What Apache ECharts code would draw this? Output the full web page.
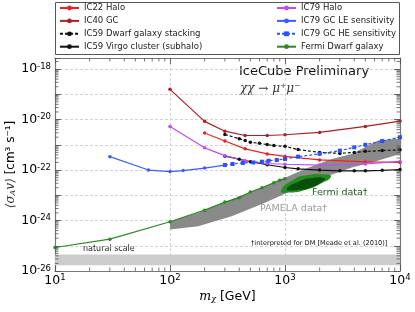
<!DOCTYPE html>
<html><head><meta charset="utf-8">
<script src="https://cdn.jsdelivr.net/npm/echarts@6/dist/echarts.min.js"></script>
<style>html,body{margin:0;padding:0;background:#fff}#c{width:415px;height:312px}</style>
</head><body><div id="c"></div>
<script>
// ---------- data ----------
const ic22Mass  = [200, 300, 450, 700, 1000, 2000, 5000, 10000];
const ic22Sigma = [2.95e-21, 1.41e-21, 6.92e-22, 4.37e-22, 3.47e-22, 2.51e-22, 2.09e-22, 2.0e-22];

const ic40Mass  = [100, 200, 300, 450, 700, 1000, 2000, 5000, 10000];
const ic40Sigma = [1.58e-19, 8.51e-21, 3.47e-21, 2.34e-21, 2.34e-21, 2.51e-21, 3.09e-21, 5.37e-21, 8.71e-21];

const dwarfMass  = [300, 400, 450, 500, 600, 700, 800, 1000, 1300, 2000, 3000, 4000, 5000, 7000, 10000];
const dwarfSigma = [2.57e-21, 1.74e-21, 1.48e-21, 1.26e-21, 1.15e-21, 1.02e-21, 9.33e-22, 8.71e-22, 6.46e-22, 5.01e-22, 4.57e-22, 5.01e-22, 5.5e-22, 5.89e-22, 6.31e-22];

const virgoMass  = [300, 400, 500, 700, 1000, 1300, 2000, 3000, 4000, 5000, 7000, 10000];
const virgoSigma = [3.55e-22, 2.69e-22, 2.14e-22, 1.62e-22, 1.26e-22, 1.12e-22, 1.0e-22, 9.33e-23, 9.33e-23, 9.33e-23, 9.77e-23, 1.05e-22];

const ic79HaloMass  = [100, 200, 300, 450, 700, 1000, 2000, 5000, 10000];
const ic79HaloSigma = [5.37e-21, 7.59e-22, 3.72e-22, 2.34e-22, 1.82e-22, 1.70e-22, 1.58e-22, 1.74e-22, 2.19e-22];

const leMass  = [30, 65, 100, 130, 200, 300];
const leSigma = [3.39e-22, 1.0e-22, 8.71e-23, 9.55e-23, 1.20e-22, 1.58e-22];

const heMass  = [300, 350, 430, 530, 630, 720, 850, 1000, 1300, 2000, 3000, 4000, 5000, 7000, 10000];
const heSigma = [1.58e-22, 1.74e-22, 1.91e-22, 2.0e-22, 2.14e-22, 2.34e-22, 2.51e-22, 2.75e-22, 3.39e-22, 4.37e-22, 5.89e-22, 7.94e-22, 1.0e-21, 1.41e-21, 2.0e-21];

const fermiMass  = [10, 30, 100, 200, 300, 400, 500, 630, 800, 900, 1000];
const fermiSigma = [8.51e-26, 1.82e-25, 8.91e-25, 2.57e-24, 5.37e-24, 7.94e-24, 1.35e-23, 2.0e-23, 3.16e-23, 3.98e-23, 4.57e-23];

// PAMELA region outline (upper edge then lower edge back)
const pamelaMass  = [100, 176, 344, 670, 1000, 1490, 2550, 3800, 6440, 10000, 10000, 5680, 3800, 2900, 2080, 1300, 670, 344, 176, 100];
const pamelaSigma = [9.33e-25, 2.0e-24, 6.92e-24, 2.34e-23, 5.01e-23, 1.10e-22, 2.75e-22, 4.37e-22, 1.48e-21, 1.78e-21, 4.37e-22, 2.0e-22, 1.26e-22, 7.94e-23, 5.01e-23, 2.0e-23, 5.01e-24, 1.48e-24, 5.89e-25, 4.37e-25];

// Fermi region outlines
const fermiOuterMass  = [923, 1104, 1493, 2015, 2512, 2228, 1649, 1175];
const fermiOuterSigma = [1.48e-23, 1.29e-23, 1.62e-23, 2.82e-23, 5.37e-23, 6.76e-23, 6.46e-23, 4.07e-23];
const fermiInnerMass  = [1040, 1297, 1717, 2183, 2228, 1786, 1297];
const fermiInnerSigma = [1.78e-23, 1.62e-23, 2.14e-23, 3.89e-23, 4.68e-23, 4.90e-23, 3.39e-23];

// natural scale band
const naturalMass  = [10, 10000, 10000, 10];
const naturalSigma = [1.7e-26, 1.7e-26, 4.5e-26, 4.5e-26];

// axes: x is a log axis; y is drawn on a value axis in decades (log10 of sigma)
const X_MIN = 10, X_MAX = 10000;
const Y_MIN_DEC = -26, Y_MAX_DEC = -17.56;
const xTickExponents = [1, 2, 3, 4];
const yTickExponents = [-26, -24, -22, -20, -18];

// ---------- chart ----------
const chart = echarts.init(document.getElementById('c'), null, {renderer: 'canvas'});
const FONT = 'DejaVu Sans';

function zip(a, b) { return a.map((v, i) => [v, Math.log10(b[i])]); }

function polySeries(name, xs, ys, color, z, smooth) {
  const d = zip(xs, ys);
  return {
    type: 'custom', name: name, xAxisIndex: 0, yAxisIndex: 0, z: z, silent: true,
    data: d,
    renderItem: function (params, api) {
      if (params.dataIndex !== 0) return null;
      const pts = d.map(p => api.coord(p));
      return {type: 'polygon', shape: {points: pts, smooth: smooth || 0}, style: {fill: color}};
    }
  };
}

function lineSeries(name, xs, ys, color, dashed, symbol, size) {
  return {
    type: 'line', name: name, data: zip(xs, ys), z: 5,
    symbol: symbol || 'circle', symbolSize: size || 3.5, showSymbol: true,
    lineStyle: {color: color, width: 1.2, type: dashed ? [3, 2] : 'solid'},
    itemStyle: {color: color},
    animation: false, silent: true
  };
}

const xMinor = [];
[10, 100, 1000].forEach(d => { for (let k = 2; k <= 9; k++) xMinor.push([k * d, Y_MIN_DEC]); });
const yMinor = [];
for (let e = -26; e <= -18; e++) { for (let k = 2; k <= 9; k++) { const v = e + Math.log10(k); if (v < Y_MAX_DEC) yMinor.push([X_MIN, v]); } }

const tickStyle = {stroke: '#555', lineWidth: 0.8};
const minorX = {
  type: 'custom', xAxisIndex: 0, yAxisIndex: 0, z: 6, silent: true, data: xMinor,
  renderItem: function (params, api) {
    const v = api.value(0);
    const b = api.coord([v, Y_MIN_DEC]), t = api.coord([v, Y_MAX_DEC]);
    return {type: 'group', children: [
      {type: 'line', shape: {x1: b[0], y1: b[1], x2: b[0], y2: b[1] - 3.5}, style: tickStyle},
      {type: 'line', shape: {x1: t[0], y1: t[1], x2: t[0], y2: t[1] + 3.5}, style: tickStyle}
    ]};
  }
};
const minorY = {
  type: 'custom', xAxisIndex: 0, yAxisIndex: 0, z: 6, silent: true, data: yMinor,
  renderItem: function (params, api) {
    const v = api.value(1);
    const l = api.coord([X_MIN, v]), r = api.coord([X_MAX, v]);
    return {type: 'group', children: [
      {type: 'line', shape: {x1: l[0], y1: l[1], x2: l[0] + 3.5, y2: l[1]}, style: tickStyle},
      {type: 'line', shape: {x1: r[0], y1: r[1], x2: r[0] - 3.5, y2: r[1]}, style: tickStyle}
    ]};
  }
};

const supRich = {
  b: {fontSize: 12.5, fontFamily: FONT, color: '#000', lineHeight: 14},
  s: {fontSize: 8.5, fontFamily: FONT, color: '#000', lineHeight: 7, verticalAlign: 'top'}
};

function isDecade(v) { const e = Math.log10(v); return Math.abs(e - Math.round(e)) < 1e-3 ? Math.round(e) : null; }

const axisLineStyle = {color: '#777', width: 1.2};
const commonX = {type: 'log', logBase: 10, min: X_MIN, max: X_MAX};
const commonY = {type: 'value', min: Y_MIN_DEC, max: Y_MAX_DEC, interval: 1};

const names = ['IC22 Halo', 'IC40 GC', 'IC59 Dwarf galaxy stacking', 'IC59 Virgo cluster (subhalo)',
               'IC79 Halo', 'IC79 GC LE sensitivity', 'IC79 GC HE sensitivity', 'Fermi Dwarf galaxy'];

const legendCommon = {
  orient: 'vertical', top: 3, padding: 0, itemWidth: 19, itemHeight: 6, itemGap: 2.9,
  textStyle: {fontSize: 8.5, fontFamily: FONT, color: '#222', lineHeight: 10},
  selectedMode: false
};

const option = {
  animation: false,
  backgroundColor: '#fff',
  grid: {left: 55, right: 15, top: 58, bottom: 41, containLabel: false, outerBoundsMode: 'none'},
  legend: [
    Object.assign({left: 59, data: names.slice(0, 4)}, legendCommon),
    Object.assign({left: 276, data: names.slice(4)}, legendCommon)
  ],
  xAxis: [
    Object.assign({
      position: 'bottom',
      name: '{i|m}{sub|χ} [GeV]', nameLocation: 'middle', nameGap: 19, nameMoveOverlap: false,
      nameTextStyle: {fontSize: 12.5, fontFamily: FONT, color: '#000',
        rich: {i: {fontSize: 12.5, fontFamily: 'DejaVu Serif', fontStyle: 'italic', color: '#000'},
               sub: {fontSize: 8, fontFamily: 'DejaVu Serif', fontStyle: 'italic', verticalAlign: 'bottom', color: '#000'}}},
      axisLine: {show: true, lineStyle: axisLineStyle},
      axisTick: {show: true, inside: true, length: 6, lineStyle: {color: '#555', width: 0.9}},
      axisLabel: {margin: 2.5, formatter: function (v) { const e = isDecade(v); return (e !== null && xTickExponents.includes(e)) ? '{b|10}{s|' + e + '}' : ''; }, rich: supRich},
      splitLine: {show: true, lineStyle: {color: '#c8c8c8', type: [3, 2], width: 0.8}}
    }, commonX),
    Object.assign({
      position: 'top',
      axisLine: {show: true, lineStyle: axisLineStyle},
      axisTick: {show: true, inside: true, length: 6, lineStyle: {color: '#555', width: 0.9}},
      axisLabel: {show: false}, splitLine: {show: false}
    }, commonX)
  ],
  yAxis: [
    Object.assign({
      position: 'left',
      name: '{i|⟨σ}{sub|A}{i|v⟩} [cm³ s⁻¹]', nameLocation: 'middle', nameGap: 38, nameMoveOverlap: false,
      nameTextStyle: {fontSize: 12, fontFamily: FONT, color: '#000',
        rich: {i: {fontSize: 12, fontFamily: 'DejaVu Serif', fontStyle: 'italic', color: '#333'},
               sub: {fontSize: 8, fontFamily: 'DejaVu Serif', fontStyle: 'italic', verticalAlign: 'bottom', color: '#333'}}},
      axisLine: {show: true, lineStyle: axisLineStyle},
      axisTick: {show: true, inside: true, length: 6, lineStyle: {color: '#555', width: 0.9}},
      axisLabel: {margin: 4, formatter: function (v) { const e = Math.round(v); return (Math.abs(v - e) < 1e-6 && yTickExponents.includes(e)) ? '{b|10}{s|' + e + '}' : ''; }, rich: supRich},
      splitLine: {show: true, lineStyle: {color: '#c8c8c8', type: [3, 2], width: 0.8}}
    }, commonY),
    Object.assign({
      position: 'right',
      axisLine: {show: true, lineStyle: axisLineStyle},
      axisTick: {show: true, inside: true, length: 6, lineStyle: {color: '#555', width: 0.9}},
      axisLabel: {show: false}, splitLine: {show: false}
    }, commonY)
  ],
  graphic: [
    {type: 'rect', shape: {x: 55.5, y: 2.5, width: 344, height: 52}, style: {fill: '#fff', stroke: '#555', lineWidth: 1}, z: -1},
    {type: 'text', x: 239, y: 72, style: {text: 'IceCube Preliminary', font: '13px "DejaVu Sans"', fill: '#111', verticalAlign: 'middle'}},
    {type: 'text', x: 240, y: 89, style: {text: 'χχ → μ⁺μ⁻', font: 'italic 12px "DejaVu Serif"', fill: '#333', verticalAlign: 'middle'}},
    {type: 'text', x: 312, y: 193, style: {text: 'Fermi data†', font: '9.5px "DejaVu Sans"', fill: '#1d5e1d', verticalAlign: 'middle'}},
    {type: 'text', x: 260, y: 209, style: {text: 'PAMELA data†', font: '9.5px "DejaVu Sans"', fill: '#9a9a9a', verticalAlign: 'middle'}},
    {type: 'text', x: 251, y: 243, style: {text: '†interpreted for DM [Meade et al. (2010)]', font: '6.6px "DejaVu Sans"', fill: '#111', verticalAlign: 'middle'}},
    {type: 'text', x: 83, y: 249, style: {text: 'natural scale', font: '8px "DejaVu Sans"', fill: '#222', verticalAlign: 'middle'}}
  ],
  series: [
    polySeries('natural', naturalMass, naturalSigma, '#cccccc', 1, 0),
    polySeries('PAMELA', pamelaMass, pamelaSigma, '#8a8a8a', 2, 0),
    polySeries('FermiOuter', fermiOuterMass, fermiOuterSigma, '#1f8f1f', 3, 0.6),
    polySeries('FermiInner', fermiInnerMass, fermiInnerSigma, '#0b4d0b', 3, 0.6),
    lineSeries(names[0], ic22Mass, ic22Sigma, '#f02020', false),
    lineSeries(names[1], ic40Mass, ic40Sigma, '#ae1e24', false),
    lineSeries(names[2], dwarfMass, dwarfSigma, '#111111', true),
    lineSeries(names[3], virgoMass, virgoSigma, '#111111', false),
    lineSeries(names[4], ic79HaloMass, ic79HaloSigma, '#c04cf5', false),
    lineSeries(names[5], leMass, leSigma, '#3b5cff', false),
    lineSeries(names[6], heMass, heSigma, '#2a50ff', true, 'rect', 4),
    lineSeries(names[7], fermiMass, fermiSigma, '#2a8a22', false),
    minorX, minorY
  ]
};
chart.setOption(option);
</script>
</body></html>
